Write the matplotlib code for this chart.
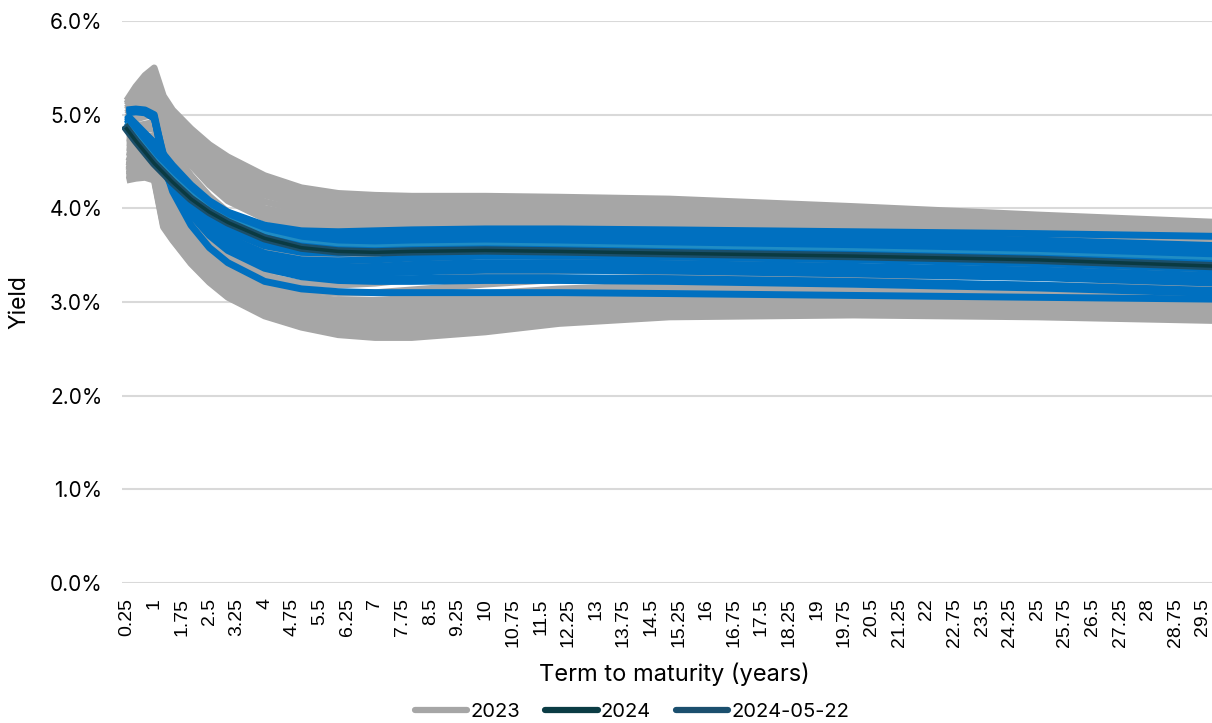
import numpy as np
import matplotlib.pyplot as plt
from matplotlib.lines import Line2D

# term to maturity (years) at the points
terms = [0.25, 0.5, 0.75, 1, 1.25, 1.5, 2, 2.5, 3, 4, 5, 6, 7, 8, 10, 12, 15, 20, 25, 30]

# 2023 curves (yield %)
curves_2023 = [
    [5.15, 5.30, 5.42, 5.50, 5.20, 5.05, 4.85, 4.68, 4.55, 4.35, 4.22, 4.16, 4.14, 4.13, 4.13, 4.12, 4.10, 4.02, 3.93, 3.85],
    [5.12, 5.26, 5.37, 5.44, 5.16, 5.01, 4.81, 4.64, 4.50, 4.30, 4.18, 4.13, 4.11, 4.10, 4.11, 4.10, 4.07, 4.00, 3.91, 3.83],
    [5.10, 5.22, 5.32, 5.38, 5.12, 4.98, 4.78, 4.60, 4.46, 4.26, 4.14, 4.10, 4.08, 4.08, 4.09, 4.08, 4.05, 3.98, 3.90, 3.82],
    [5.07, 5.18, 5.27, 5.31, 5.07, 4.93, 4.72, 4.54, 4.39, 4.20, 4.09, 4.04, 4.03, 4.03, 4.04, 4.03, 4.01, 3.95, 3.88, 3.80],
    [5.05, 5.15, 5.22, 5.25, 5.02, 4.88, 4.66, 4.48, 4.33, 4.14, 4.04, 3.99, 3.98, 3.98, 3.99, 3.99, 3.97, 3.92, 3.85, 3.78],
    [5.02, 5.11, 5.17, 5.20, 4.98, 4.84, 4.61, 4.42, 4.26, 4.07, 3.98, 3.94, 3.93, 3.94, 3.95, 3.95, 3.93, 3.89, 3.83, 3.76],
    [5.00, 5.08, 5.12, 5.15, 4.95, 4.80, 4.56, 4.36, 4.20, 4.00, 3.92, 3.89, 3.89, 3.90, 3.92, 3.92, 3.90, 3.86, 3.80, 3.74],
    [4.97, 5.04, 5.08, 5.11, 4.91, 4.76, 4.51, 4.30, 4.14, 3.94, 3.86, 3.84, 3.84, 3.85, 3.87, 3.87, 3.86, 3.82, 3.77, 3.71],
    [4.95, 5.00, 5.05, 5.08, 4.88, 4.72, 4.46, 4.25, 4.08, 3.89, 3.81, 3.79, 3.79, 3.80, 3.82, 3.83, 3.82, 3.79, 3.74, 3.69],
    [4.90, 4.95, 4.98, 5.00, 4.80, 4.62, 4.35, 4.13, 3.96, 3.78, 3.71, 3.70, 3.71, 3.73, 3.76, 3.77, 3.76, 3.73, 3.69, 3.64],
    [4.85, 4.88, 4.90, 4.92, 4.70, 4.52, 4.24, 4.02, 3.85, 3.67, 3.61, 3.60, 3.62, 3.64, 3.68, 3.70, 3.70, 3.68, 3.64, 3.59],
    [4.80, 4.82, 4.84, 4.85, 4.60, 4.42, 4.12, 3.90, 3.73, 3.56, 3.50, 3.50, 3.52, 3.55, 3.59, 3.62, 3.62, 3.61, 3.58, 3.54],
    [4.75, 4.75, 4.76, 4.78, 4.50, 4.31, 4.01, 3.78, 3.61, 3.45, 3.40, 3.40, 3.42, 3.45, 3.50, 3.53, 3.54, 3.53, 3.50, 3.47],
    [4.70, 4.70, 4.70, 4.70, 4.40, 4.20, 3.90, 3.66, 3.50, 3.34, 3.29, 3.29, 3.31, 3.34, 3.39, 3.43, 3.45, 3.45, 3.43, 3.40],
    [4.65, 4.64, 4.63, 4.62, 4.30, 4.10, 3.81, 3.59, 3.44, 3.28, 3.20, 3.18, 3.20, 3.24, 3.29, 3.33, 3.36, 3.37, 3.35, 3.32],
    [4.60, 4.58, 4.56, 4.55, 4.20, 4.01, 3.73, 3.52, 3.38, 3.21, 3.12, 3.09, 3.10, 3.13, 3.19, 3.24, 3.27, 3.28, 3.27, 3.24],
    [4.55, 4.52, 4.50, 4.48, 4.12, 3.93, 3.66, 3.46, 3.32, 3.15, 3.06, 3.02, 3.02, 3.04, 3.09, 3.14, 3.18, 3.20, 3.18, 3.15],
    [4.52, 4.50, 4.48, 4.45, 4.07, 3.88, 3.61, 3.41, 3.27, 3.10, 3.01, 2.97, 2.97, 2.99, 3.04, 3.10, 3.14, 3.16, 3.14, 3.10],
    [4.50, 4.47, 4.45, 4.42, 4.03, 3.84, 3.57, 3.37, 3.23, 3.05, 2.96, 2.92, 2.92, 2.94, 3.00, 3.05, 3.09, 3.11, 3.09, 3.06],
    [4.47, 4.44, 4.42, 4.40, 3.99, 3.80, 3.53, 3.33, 3.18, 3.00, 2.91, 2.87, 2.87, 2.89, 2.95, 3.01, 3.05, 3.07, 3.05, 3.02],
    [4.45, 4.42, 4.40, 4.38, 3.95, 3.76, 3.50, 3.30, 3.14, 2.96, 2.86, 2.82, 2.82, 2.84, 2.90, 2.96, 3.00, 3.02, 3.00, 2.97],
    [4.42, 4.40, 4.38, 4.36, 3.91, 3.73, 3.47, 3.27, 3.11, 2.92, 2.82, 2.77, 2.77, 2.79, 2.85, 2.92, 2.96, 2.98, 2.96, 2.93],
    [4.40, 4.38, 4.36, 4.34, 3.87, 3.70, 3.45, 3.25, 3.09, 2.89, 2.79, 2.73, 2.72, 2.74, 2.80, 2.87, 2.92, 2.94, 2.92, 2.89],
    [4.37, 4.36, 4.35, 4.33, 3.84, 3.68, 3.43, 3.23, 3.07, 2.87, 2.76, 2.69, 2.67, 2.68, 2.76, 2.83, 2.89, 2.91, 2.89, 2.85],
    [4.35, 4.35, 4.34, 4.32, 3.82, 3.67, 3.42, 3.22, 3.06, 2.86, 2.74, 2.67, 2.64, 2.64, 2.72, 2.80, 2.86, 2.88, 2.86, 2.82],
    [4.30, 4.32, 4.33, 4.30, 3.80, 3.66, 3.41, 3.21, 3.05, 2.85, 2.73, 2.65, 2.62, 2.62, 2.68, 2.77, 2.84, 2.86, 2.84, 2.80],
]

# 2024 curves (yield %)
curves_2024 = [
    [5.05, 5.06, 5.05, 5.00, 4.55, 4.30, 3.98, 3.76, 3.60, 3.40, 3.30, 3.26, 3.25, 3.25, 3.26, 3.26, 3.25, 3.22, 3.18, 3.12],
    [5.04, 5.05, 5.04, 4.98, 4.48, 4.18, 3.82, 3.58, 3.42, 3.22, 3.14, 3.11, 3.10, 3.10, 3.10, 3.10, 3.09, 3.07, 3.05, 3.03],
    [5.02, 5.03, 5.02, 4.96, 4.58, 4.36, 4.05, 3.84, 3.69, 3.50, 3.41, 3.37, 3.36, 3.36, 3.37, 3.37, 3.36, 3.33, 3.29, 3.23],
    [4.95, 4.85, 4.75, 4.65, 4.50, 4.35, 4.10, 3.92, 3.80, 3.64, 3.58, 3.57, 3.58, 3.60, 3.62, 3.62, 3.60, 3.56, 3.51, 3.44],
    [4.98, 4.88, 4.78, 4.68, 4.55, 4.42, 4.20, 4.03, 3.91, 3.76, 3.70, 3.69, 3.70, 3.72, 3.74, 3.74, 3.72, 3.68, 3.62, 3.56],
    [5.00, 4.90, 4.80, 4.70, 4.58, 4.46, 4.25, 4.08, 3.96, 3.82, 3.76, 3.75, 3.76, 3.77, 3.78, 3.78, 3.77, 3.75, 3.73, 3.70],
    [4.92, 4.82, 4.72, 4.62, 4.48, 4.33, 4.08, 3.89, 3.76, 3.60, 3.53, 3.52, 3.53, 3.55, 3.57, 3.57, 3.55, 3.52, 3.47, 3.40],
    [4.90, 4.80, 4.70, 4.60, 4.45, 4.30, 4.03, 3.83, 3.69, 3.52, 3.45, 3.44, 3.45, 3.47, 3.49, 3.49, 3.48, 3.45, 3.41, 3.35],
    [4.88, 4.78, 4.68, 4.58, 4.42, 4.26, 3.98, 3.77, 3.62, 3.45, 3.38, 3.37, 3.38, 3.40, 3.42, 3.42, 3.41, 3.38, 3.34, 3.28],
    [4.95, 4.86, 4.76, 4.66, 4.52, 4.38, 4.14, 3.96, 3.84, 3.70, 3.64, 3.63, 3.64, 3.66, 3.68, 3.68, 3.66, 3.62, 3.57, 3.50],
    [5.03, 5.04, 5.03, 4.97, 4.52, 4.26, 3.93, 3.71, 3.55, 3.36, 3.27, 3.23, 3.22, 3.22, 3.23, 3.23, 3.22, 3.19, 3.15, 3.09],
    [4.86, 4.76, 4.66, 4.56, 4.40, 4.23, 3.95, 3.73, 3.58, 3.41, 3.33, 3.31, 3.31, 3.32, 3.34, 3.34, 3.33, 3.30, 3.26, 3.20],
    [4.97, 4.88, 4.79, 4.70, 4.57, 4.44, 4.22, 4.05, 3.93, 3.78, 3.72, 3.71, 3.72, 3.73, 3.75, 3.75, 3.73, 3.70, 3.66, 3.60],
]
curve_2024_light = [4.90, 4.78, 4.66, 4.54, 4.44, 4.34, 4.16, 4.00, 3.89, 3.74, 3.65, 3.61, 3.60, 3.61, 3.62, 3.61, 3.59, 3.56, 3.52, 3.46]

# 2024-05-22 curve
curve_0522 = [4.85, 4.72, 4.60, 4.48, 4.38, 4.28, 4.10, 3.96, 3.85, 3.68, 3.58, 3.54, 3.53, 3.54, 3.55, 3.54, 3.52, 3.49, 3.45, 3.38]

grey = "#a6a6a6"
blue = "#0070c0"

plt.rcParams['font.family'] = ['Inter', 'DejaVu Sans']
fig = plt.figure(figsize=(12.12, 7.23), dpi=100)
ax = fig.add_axes([122/1212, 1 - 583/723, 1104/1212, 562/723])

for c in curves_2023:
    ax.plot(terms, c, color=grey, lw=4.8, solid_capstyle='butt', zorder=2)
for c in curves_2024:
    ax.plot(terms, c, color=blue, lw=5, solid_capstyle='butt', zorder=3)
ax.plot(terms, curve_2024_light, color="#1f8cc4", lw=2, zorder=3)
ax.plot(terms, curve_0522, color="#1b4f6a", lw=6, zorder=4)
ax.plot(terms, curve_0522, color="#0a3a42", lw=2.5, zorder=5)

ax.set_xlim(0.125, 30.125)
ax.set_ylim(0, 6)
ax.set_yticks(np.arange(0, 6.01, 1))
ax.set_yticklabels(["%.1f%%" % v for v in np.arange(0, 6.01, 1)])
xt = np.arange(0.25, 30, 0.75)
ax.set_xticks(xt)
ax.set_xticklabels(["%g" % v for v in xt], rotation=90, family=['Liberation Sans'], fontsize=14)
ax.tick_params(axis='x', length=0, pad=11)
ax.tick_params(axis='y', length=0, pad=14, labelsize=15)
ax.grid(axis='y', color="#d9d9d9", lw=1.5, zorder=0)
ax.set_axisbelow(True)
for s in ax.spines.values():
    s.set_visible(False)

ax.set_ylabel("Yield", fontsize=16.5)
ax.yaxis.set_label_coords(-0.083, 0.5)
ax.set_xlabel("Term to maturity (years)", fontsize=17)
ax.xaxis.set_label_coords(0.5, -0.142)

handles = [Line2D([], [], color="#a6a6a6", lw=4.5, solid_capstyle='round'),
           Line2D([], [], color="#0b3c44", lw=4.5, solid_capstyle='round'),
           Line2D([], [], color="#1b4f6e", lw=4.5, solid_capstyle='round')]
fig.legend(handles, ["2023", "2024", "2024-05-22"], loc='center', bbox_to_anchor=(632/1212, 0.015),
           ncol=3, frameon=False, fontsize=14.5, handlelength=2.6, handletextpad=0.15, columnspacing=1.25)

fig.savefig("out.png", dpi=100)
